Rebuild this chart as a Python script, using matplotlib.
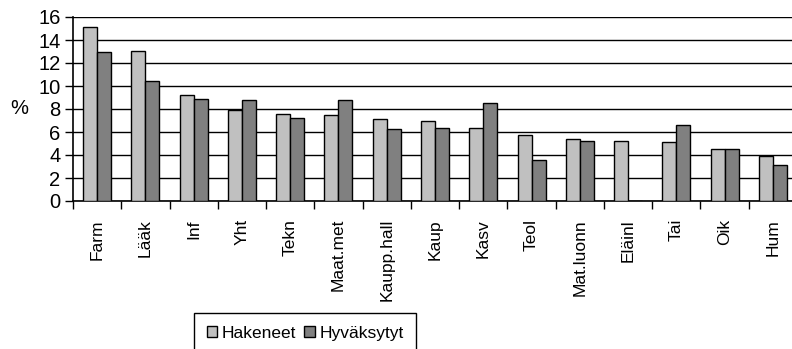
import numpy as np
import matplotlib.pyplot as plt

plt.rcParams['font.family'] = ['Liberation Sans', 'DejaVu Sans']

categories = ['Farm', 'Lääk', 'Inf', 'Yht', 'Tekn', 'Maat.met', 'Kaupp.hall', 'Kaup',
              'Kasv', 'Teol', 'Mat.luonn', 'Eläinl', 'Tai', 'Oik', 'Hum']
hakeneet = [15.1, 13.05, 9.25, 7.95, 7.55, 7.45, 7.1, 6.95, 6.35, 5.75, 5.4, 5.25, 5.15, 4.55, 3.9]
hyvaksytyt = [12.95, 10.4, 8.9, 8.8, 7.2, 8.8, 6.25, 6.35, 8.55, 3.55, 5.25, 0, 6.6, 4.55, 3.1]
yticks = [0, 2, 4, 6, 8, 10, 12, 14, 16]

fig = plt.figure(figsize=(7.92, 3.49), dpi=100)
ax = fig.add_axes([73 / 792, 1 - 201 / 349, 724 / 792, 184 / 349])

x = np.arange(len(categories))
w = 0.29
ax.bar(x - w / 2, hakeneet, w, color='#c0c0c0', edgecolor='black', linewidth=1, label='Hakeneet', zorder=3)
ax.bar(x + w / 2, hyvaksytyt, w, color='#808080', edgecolor='black', linewidth=1, label='Hyväksytyt', zorder=3)

ax.set_xlim(-0.5, len(categories) - 0.5)
ax.set_ylim(0, 16)
ax.set_yticks(yticks)
ax.tick_params(axis='y', labelsize=14.5, length=6, width=1, pad=3)
ax.grid(axis='y', color='black', linewidth=1, zorder=0)

# category ticks sit between groups, labels in the middle
ax.set_xticks(np.arange(len(categories) + 1) - 0.5)
ax.set_xticklabels([])
ax.set_xticks(x, minor=True)
ax.set_xticklabels(categories, minor=True, rotation=90, fontsize=12.5)
ax.tick_params(axis='x', which='major', length=6, width=1)
ax.tick_params(axis='x', which='minor', length=0, pad=13)

for s in ['top', 'right']:
    ax.spines[s].set_visible(False)
for s in ['left', 'bottom']:
    ax.spines[s].set_linewidth(1.2)

fig.text(10 / 792, 1 - 108 / 349, '%', fontsize=14.5, va='center', ha='left')

leg = fig.legend(loc='upper center', bbox_to_anchor=(305 / 792, 1 - 313 / 349), ncol=2,
                 fontsize=12.5, fancybox=False, framealpha=1, edgecolor='black', borderaxespad=0,
                 handlelength=0.6, handleheight=0.6, handletextpad=0.25, columnspacing=0.5,
                 borderpad=0.75)
leg.get_frame().set_linewidth(1)

fig.savefig('out.png', dpi=100)
